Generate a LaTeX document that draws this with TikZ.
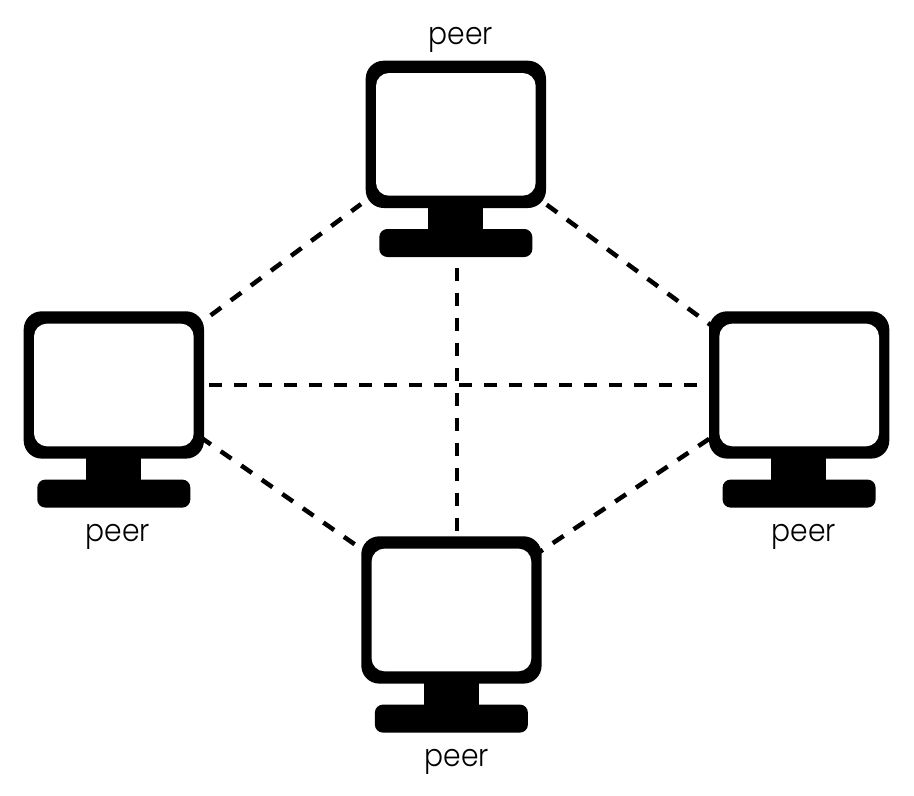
\documentclass[tikz,border=0pt]{standalone}
\usepackage{fontspec}
\setmainfont{Poppins Light}
\tikzset{
  shell/.style={anchor=north west,inner sep=0pt,outer sep=0pt,fill=black,rounded corners=18pt,minimum width=180.3pt,minimum height=147.3pt},
  glass/.style={anchor=north west,inner sep=0pt,outer sep=0pt,fill=white,rounded corners=13pt,minimum width=159.7pt,minimum height=122.7pt},
  neck/.style={anchor=north west,inner sep=0pt,outer sep=0pt,fill=black,minimum width=55pt,minimum height=23pt},
  foot/.style={anchor=north west,inner sep=0pt,outer sep=0pt,fill=black,rounded corners=8pt,minimum width=153pt,minimum height=28pt},
  peerlabel/.style={anchor=base,inner sep=0pt,font=\fontsize{31}{34}\selectfont,text=black,xscale=.91,transform shape},
  link/.style={draw=black,line width=4.5pt,dash pattern=on 13pt off 12pt}
}
\newcommand{\computer}[3]{%
  \node[shell] (#1shell) at (#2,#3) {};
  \node[glass] (#1glass) at (#2+10.3,#3+12.3) {};
  \node[neck] (#1neck) at (#2+62.3,#3+146.3) {};
  \node[foot] (#1foot) at (#2+13.6,#3+168.3) {};
}
\begin{document}
\begin{tikzpicture}[x=1pt,y=-1pt]
\useasboundingbox[fill=white] (0,0) rectangle (914,796);
% connector ends
\coordinate (tl1) at (210.7,315.3);
\coordinate (tl2) at (361,204.1);
\coordinate (tr1) at (546.7,204.7);
\coordinate (tr2) at (712,326);
\coordinate (bl1) at (200.2,437);
\coordinate (bl2) at (355,544.5);
\coordinate (br1) at (532,557);
\coordinate (br2) at (712,437);
\coordinate (v1) at (457,268);
\coordinate (v2) at (457,533);
\coordinate (h1) at (209,385);
\coordinate (h2) at (704,385);
\draw[link] (tl1) -- (tl2);
\draw[link] (tr1) -- (tr2);
\draw[link] (bl1) -- (bl2);
\draw[link] (br1) -- (br2);
\draw[link] (v1) -- (v2);
\draw[link] (h1) -- (h2);
\computer{top}{365.7}{60.7}
\computer{left}{23.7}{311.3}
\computer{right}{709}{311.3}
\computer{bottom}{361.3}{536.3}
\node[peerlabel] (toplabel) at (460.7,44.7) {peer};
\node[peerlabel] (leftlabel) at (118,541.4) {peer};
\node[peerlabel] (rightlabel) at (804,541.4) {peer};
\node[peerlabel] (bottomlabel) at (457,766.4) {peer};
\end{tikzpicture}
\end{document}
